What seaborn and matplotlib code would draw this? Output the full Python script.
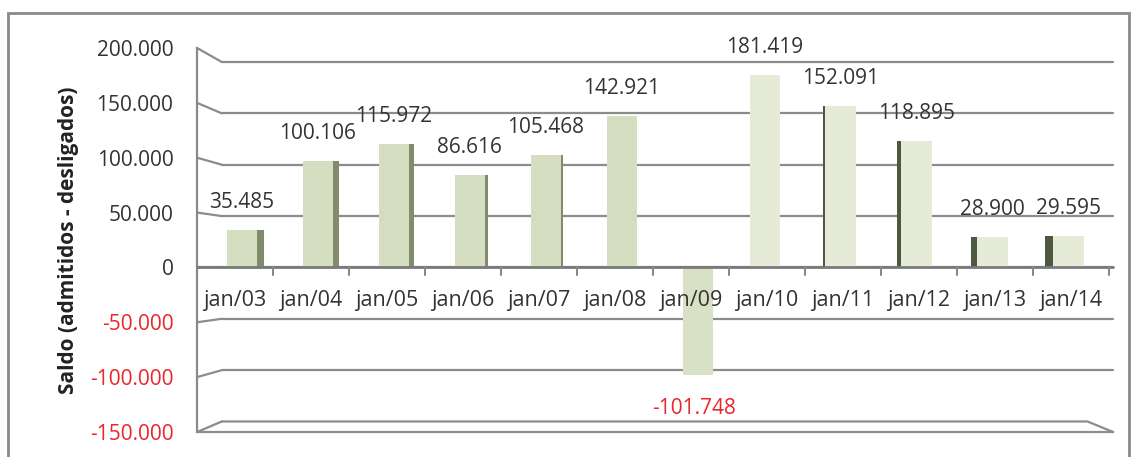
import matplotlib
matplotlib.use("Agg")
import matplotlib.pyplot as plt
import seaborn as sns
import pandas as pd
from matplotlib.patches import Rectangle

# data
periods = ["jan/03", "jan/04", "jan/05", "jan/06", "jan/07", "jan/08",
           "jan/09", "jan/10", "jan/11", "jan/12", "jan/13", "jan/14"]
saldo = [35485, 100106, 115972, 86616, 105468, 142921,
         -101748, 181419, 152091, 118895, 28900, 29595]
saldo_labels = ["35.485", "100.106", "115.972", "86.616", "105.468", "142.921",
                "-101.748", "181.419", "152.091", "118.895", "28.900", "29.595"]
y_ticks = [-150000, -100000, -50000, 0, 50000, 100000, 150000, 200000]
y_tick_labels = ["-150.000", "-100.000", "-50.000", "0", "50.000",
                 "100.000", "150.000", "200.000"]

sns.set_style("white")
plt.rcParams["font.family"] = ["Open Sans", "DejaVu Sans"]

# fake 3D: front wall scale slightly bigger, back wall slightly smaller
FRONT = 1.033
BACK = 0.967
GRID_X0 = 0.027   # where the back wall starts (axes fraction)
GRID_X1 = 0.998
BAR_W = 0.4
PX = 1 / 76.0     # one pixel in category units

fig = plt.figure(figsize=(11.35, 4.57), dpi=100)
ax = fig.add_axes([0.1736, 0.0547, 0.8088, 0.8403])

# outer frame
fig.patches.append(Rectangle((0.007, -0.05), 0.988, 1.022, transform=fig.transFigure,
                             fill=False, edgecolor="#8a8a8a", linewidth=2))

ax.set_ylim(-150000 * FRONT, 200000 * FRONT)
ax.set_xlim(-0.5, 11.58)

trans = ax.get_yaxis_transform()
grid_c = "#8c8c8c"
for v in y_ticks[1:]:
    ax.plot([GRID_X0, GRID_X1], [v * BACK, v * BACK], color=grid_c, lw=1.6,
            transform=trans, zorder=1, clip_on=False)
for v in y_ticks:
    ax.plot([0, GRID_X0], [v * FRONT, v * BACK], color=grid_c, lw=1.6,
            transform=trans, zorder=1, clip_on=False)
# floor
ax.plot([GRID_X0, 0.97, GRID_X1], [-150000 * BACK, -150000 * BACK, -150000 * FRONT],
        color=grid_c, lw=1.6, transform=trans, zorder=1, clip_on=False)
ax.plot([0, GRID_X1], [-150000 * FRONT, -150000 * FRONT], color=grid_c, lw=1.6,
        transform=trans, zorder=1, clip_on=False)

front = ["#d7e3bc"] * 6 + ["#dae6c0"] + ["#e6efd2"] * 5
x = list(range(len(periods)))
left_x = [i + 0.09 for i in x[:7]]
right_x = [i - 0.03 for i in x[7:]]
bar_x = left_x + right_x
min_gap = min(b - a for a, b in zip(bar_x[:-1], bar_x[1:]))

df = pd.DataFrame({"pos": bar_x, "saldo": saldo, "periodo": periods})
# native_scale scales width by the smallest spacing, undo that
sns.barplot(data=df, x="pos", y="saldo", hue="periodo", palette=front,
            native_scale=True, legend=False, width=BAR_W / min_gap, ax=ax,
            zorder=3, linewidth=0)

# side faces of the 3D bars, wider the further from the view centre
left_w = [max(1.4 * (5.3 - i), 0) * PX for i in x[:6]]
right_w = [max(2.1 * (i - 7), 0) * PX for i in x[7:]]
ax.bar([p + BAR_W / 2 for p in left_x[:6]], saldo[:6], width=left_w, align="edge",
       color="#808c6c", zorder=3, linewidth=0)
ax.bar([p - BAR_W / 2 for p in right_x], saldo[7:], width=[-w for w in right_w],
       align="edge", color="#4e5740", zorder=3, linewidth=0)

# zero line and category ticks
ax.plot([0, GRID_X1], [0, 0], color="#7a7a7a", lw=2, transform=trans, zorder=4)
for i in x:
    ax.plot([i + 0.5, i + 0.5], [0, -7000], color="#8a8a8a", lw=1.5, zorder=4,
            clip_on=False)

ax.set_yticks([v * FRONT for v in y_ticks])
ax.set_yticklabels(y_tick_labels, fontsize=15, color="#333333")
for t, v in zip(ax.get_yticklabels(), y_ticks):
    if v < 0:
        t.set_color("#e8262c")
ax.tick_params(axis="y", length=7, width=1.5, color="#8a8a8a", pad=10)

# category labels just below the zero line
ax.set_xticks([])
ax.set_xlabel("")
for i, p in enumerate(periods):
    ax.text(i, -31000, p, ha="center", va="center", fontsize=15.5,
            color="#333333", zorder=5)

# value labels
for i, (v, lab) in enumerate(zip(saldo, saldo_labels)):
    if v < 0:
        ax.text(bar_x[i] - 0.05, v - 31000, lab, ha="center", va="center",
                fontsize=15, color="#e8262c", zorder=5)
    else:
        ax.text(bar_x[i], v + 26000, lab, ha="center", va="center",
                fontsize=15, color="#333333", zorder=5)

ax.set_ylabel("Saldo (admitidos - desligados)", fontsize=15, fontweight="bold",
              color="#222222", labelpad=8)

sns.despine(ax=ax, top=True, right=True, bottom=True)
ax.spines["left"].set_color("#8a8a8a")
ax.spines["left"].set_linewidth(1.6)

fig.savefig("out.png", dpi=100)
